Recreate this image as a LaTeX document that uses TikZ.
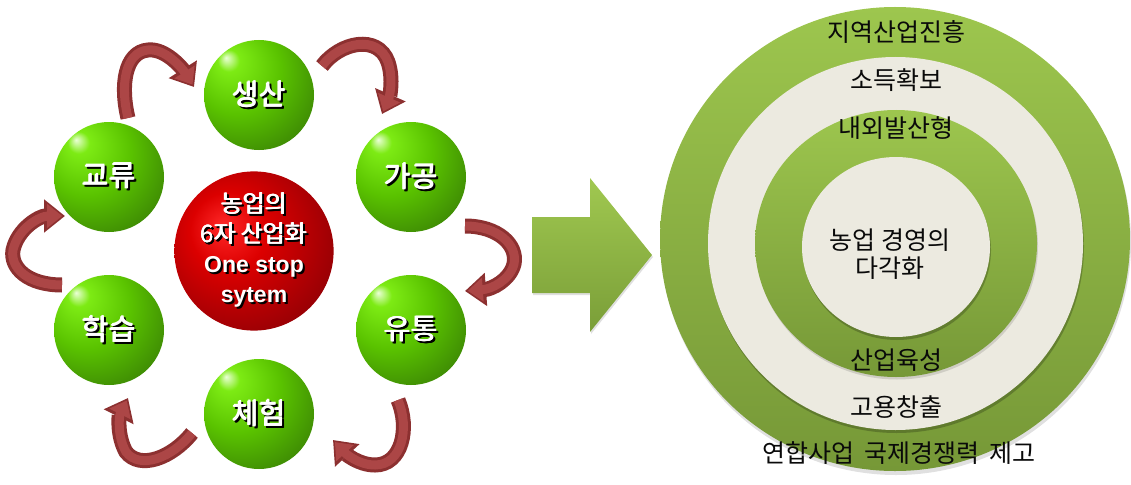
\documentclass[tikz,border=0pt]{standalone}
\usepackage{fontspec}
\setmainfont{Noto Sans CJK KR}
\newfontfamily\latinb{Liberation Sans}
\usetikzlibrary{arrows.meta,shadows}

\definecolor{ringT}{RGB}{157,198,78}
\definecolor{ringB}{RGB}{118,152,55}
\definecolor{cream}{RGB}{236,234,224}
\definecolor{bigT}{RGB}{160,200,80}
\definecolor{bigB}{RGB}{122,158,56}
\definecolor{arrD}{RGB}{140,48,48}
\definecolor{arrL}{RGB}{172,70,70}
\definecolor{txt}{RGB}{10,10,10}

\definecolor{ghl}{RGB}{235,255,215}
\definecolor{gA}{RGB}{125,235,20}
\definecolor{gB}{RGB}{90,195,0}
\definecolor{gC}{RGB}{55,125,5}
\definecolor{gD}{RGB}{50,78,20}
\definecolor{gE}{RGB}{75,65,35}
\pgfdeclareradialshading{gball}{\pgfpoint{-15bp}{17bp}}{%
 color(0bp)=(ghl); color(5bp)=(gA); color(20bp)=(gB); color(40bp)=(gC); color(56bp)=(gD); color(64bp)=(gE)}

\definecolor{rA}{RGB}{255,40,40}
\definecolor{rB}{RGB}{220,0,0}
\definecolor{rC}{RGB}{150,0,5}
\definecolor{rD}{RGB}{85,5,25}
\definecolor{rE}{RGB}{110,60,95}
\pgfdeclareradialshading{rball}{\pgfpoint{-10bp}{8bp}}{%
 color(0bp)=(rA); color(12bp)=(rB); color(32bp)=(rC); color(50bp)=(rD); color(60bp)=(rE)}

% heavy text: slightly shifted copies (the Korean font has no bold face here)
\newcommand\hvy[3]{% #1 offset, #2 colour, #3 text
  \makebox[0pt][l]{\color{#2}#3}%
  \makebox[0pt][l]{\kern#1\color{#2}#3}%
  \makebox[0pt][l]{\kern#1\raisebox{#1}{\color{#2}#3}}%
  \phantom{#3}\kern#1}
\newcommand\shd[1]{\makebox[0pt][l]{\kern2pt\raisebox{-2pt}{\hvy{0.9pt}{black}{#1}}}\hvy{0.9pt}{white}{#1}}
\newcommand\shdl[1]{\makebox[0pt][l]{\kern2pt\raisebox{-2pt}{\color{black}#1}}{\color{white}#1}}

\newcommand\cyca[7]{%
  \draw[cycout] (#1) .. controls (#2) and (#3) .. (#4) .. controls (#5) and (#6) .. (#7);
  \draw[cycin] (#1) .. controls (#2) and (#3) .. (#4) .. controls (#5) and (#6) .. (#7);}

\tikzset{
  gsph/.style={circle, minimum size=110pt, inner sep=0pt, shading=gball,
    font=\fontsize{29}{32}\selectfont},
  rsph/.style={circle, minimum size=152pt, inner sep=0pt, shading=rball,
    align=center, font=\fontsize{24}{30}\selectfont},
  cycout/.style={line width=15pt, draw=arrD, -{Triangle[width=32pt,length=21pt]}},
  cycin/.style={line width=9pt, draw=arrL, -{Triangle[width=23pt,length=15pt]}, shorten >=2.8pt},
  lbl/.style={text=txt, font=\fontsize{25}{28}\selectfont, inner sep=0pt, align=center},
}

\begin{document}
\begin{tikzpicture}[x=1pt,y=-1pt]
\useasboundingbox (0,0) rectangle (1131,484);

% ---------- concentric rings ----------
\fill[black,opacity=0.12] (896,242) ellipse [x radius=235pt, y radius=233pt];
\shade[top color=ringT, bottom color=ringB] (895,239) ellipse [x radius=235pt, y radius=232pt];
\fill[black,opacity=0.22] (896.5,246.5) ellipse [x radius=187.5pt, y radius=186.5pt];
\fill[cream] (895.5,243.5) ellipse [x radius=187.5pt, y radius=186.5pt];
\fill[black,opacity=0.12] (897,246) ellipse [x radius=141pt, y radius=133.5pt];
\shade[top color=ringT, bottom color=ringB] (896,243.5) ellipse [x radius=141pt, y radius=133.5pt];
\fill[black,opacity=0.22] (897,250) ellipse [x radius=94pt, y radius=90pt];
\fill[cream] (896,247) ellipse [x radius=94pt, y radius=90pt];

\node[lbl] (r1) at (896,32) {지역산업진흥};
\node[lbl] (r2) at (896,80) {소득확보};
\node[lbl] (r3) at (896,128) {내외발산형};
\node[lbl] (r4) at (890,254) {농업 경영의\\다각화};
\node[lbl] (r5) at (896,360) {산업육성};
\node[lbl] (r6) at (896,407) {고용창출};
\node[lbl] (r7) at (899,453) {연합사업\hspace{4pt} 국제경쟁력\hspace{4pt} 제고};

% ---------- big arrow ----------
\shade[top color=bigT, bottom color=bigB,
  drop shadow={opacity=0.25, shadow xshift=1pt, shadow yshift=-2pt}]
  (532,217) -- (590,217) -- (590,178) -- (652,255) -- (590,332) -- (590,293) -- (532,293) -- cycle;

% ---------- spheres ----------
\node[rsph] (core) at (254,251) {\shd{농업의}\\\shd{6자 산업화}\\{\latinb\bfseries\fontsize{23}{30}\selectfont\shdl{One stop}}\\{\latinb\bfseries\fontsize{23}{30}\selectfont\shdl{sytem}}};
\node[gsph] (s1) at (259,95) {\shd{생산}};
\node[gsph] (s2) at (411,177) {\shd{가공}};
\node[gsph] (s3) at (411,330) {\shd{유통}};
\node[gsph] (s4) at (259,414) {\shd{체험}};
\node[gsph] (s5) at (109,330) {\shd{학습}};
\node[gsph] (s6) at (109,177) {\shd{교류}};

% ---------- cycle arrows ----------
\coordinate (a1s) at (128,118); \coordinate (a1m) at (148,50); \coordinate (a1e) at (194,87);
\coordinate (a2s) at (322,66);  \coordinate (a2m) at (388,62); \coordinate (a2e) at (382,114);
\coordinate (a3s) at (465,226); \coordinate (a3m) at (514,264); \coordinate (a3e) at (465,291);
\coordinate (a4s) at (398,400); \coordinate (a4m) at (375,465); \coordinate (a4e) at (333,440);
\coordinate (a5s) at (192,433); \coordinate (a5m) at (126,452); \coordinate (a5e) at (128,398);
\coordinate (a6s) at (62,285);  \coordinate (a6m) at (13,250);  \coordinate (a6e) at (65,216);

\cyca{a1s}{120,85}{125,52}{a1m}{165,48}{182,68}{a1e}
\cyca{a2s}{340,42}{378,34}{a2m}{394,80}{389,98}{a2e}
\cyca{a3s}{498,226}{518,245}{a3m}{510,280}{492,289}{a3e}
\cyca{a4s}{410,428}{402,465}{a4m}{358,465}{345,453}{a4e}
\cyca{a5s}{172,458}{140,470}{a5m}{117,436}{119,416}{a5e}
\cyca{a6s}{28,285}{10,268}{a6m}{18,228}{40,216}{a6e}
\end{tikzpicture}
\end{document}
